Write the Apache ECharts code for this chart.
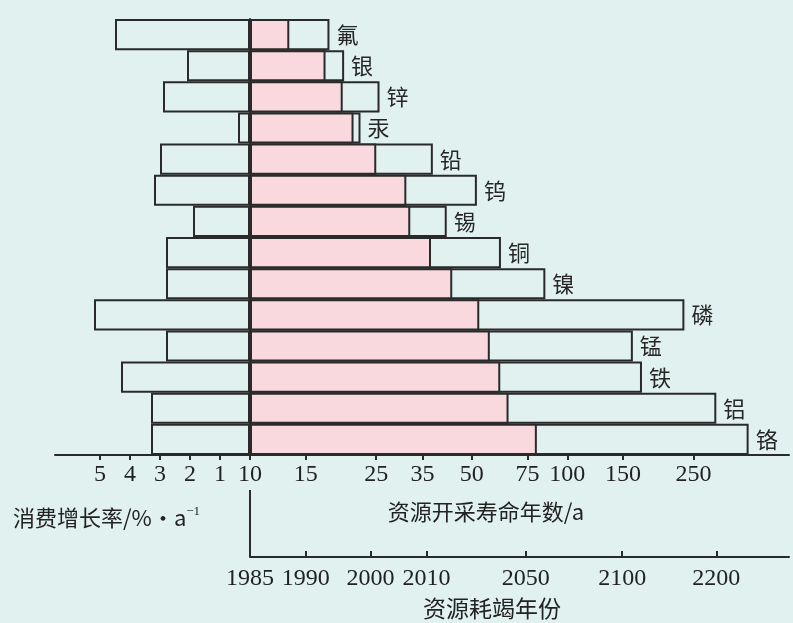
<!DOCTYPE html>
<html>
<head>
<meta charset="utf-8">
<script src="https://cdn.jsdelivr.net/npm/echarts@6/dist/echarts.min.js"></script>
<style>
html, body { margin: 0; padding: 0; background: #e0f1ef; }
#chart { width: 793px; height: 623px; }
</style>
</head>
<body>
<div id="chart"></div>
<script>
// 矿种（自上而下）
const elements = ['氟', '银', '锌', '汞', '铅', '钨', '锡', '铜', '镍', '磷', '锰', '铁', '铝', '铬'];
// 消费增长率 %/a
const growthRate = [4.5, 2.1, 2.9, 0.4, 3.0, 3.2, 1.9, 2.8, 2.8, 5.2, 2.8, 4.3, 3.3, 3.3];
// 资源开采寿命年数（粉色段）
const lifeShort = [13.3, 17.3, 19.6, 21.2, 25.0, 31.1, 32.0, 37.2, 43.4, 52.8, 57.0, 61.5, 65.3, 80.2];
// 资源开采寿命年数（白框段）
const lifeLong = [17.8, 19.8, 25.6, 22.3, 37.7, 51.9, 41.7, 61.8, 85.3, 234, 161, 172, 295, 373];
// 刻度
const rateTicks = [1, 2, 3, 4, 5];
const lifeTicks = [10, 15, 25, 35, 50, 75, 100, 150, 250];
const yearTicks = [1985, 1990, 2000, 2010, 2050, 2100, 2200];
const yearTickAt = [10, 15, 24, 36, 74, 149, 295];

const ink = '#2a2a2a';
const bg = '#e0f1ef';
const pink = '#f9d9de';
const numFont = 'Liberation Serif';
const cjkFont = 'Noto Sans CJK SC';

const chart = echarts.init(document.getElementById('chart'));

const axisLine = { show: true, lineStyle: { color: ink, width: 2 } };

const option = {
  backgroundColor: bg,
  animation: false,
  grid: [
    { left: 55, width: 195, top: 19, height: 436 },
    { left: 250, width: 539, top: 19, height: 436 }
  ],
  xAxis: [
    {
      gridIndex: 0, type: 'value', inverse: true, min: 0, max: 6.5,
      splitLine: { show: false },
      axisLine: axisLine,
      axisTick: { show: true, customValues: rateTicks, length: 5, lineStyle: { color: ink, width: 2 } },
      axisLabel: { customValues: rateTicks, margin: 8, fontFamily: numFont, fontSize: 24, color: '#222' }
    },
    {
      gridIndex: 1, type: 'log', logBase: 10, min: 10, max: 500, startValue: 10,
      splitLine: { show: false },
      axisLine: axisLine,
      axisTick: { show: true, customValues: lifeTicks, length: 5, lineStyle: { color: ink, width: 2 } },
      axisLabel: {
        customValues: lifeTicks, margin: 8, fontFamily: numFont, fontSize: 24, color: '#222',
        formatter: v => String(Math.round(v))
      }
    },
    {
      gridIndex: 1, type: 'log', logBase: 10, min: 10, max: 500, position: 'bottom', offset: 102,
      splitLine: { show: false },
      axisLine: axisLine,
      axisTick: { show: true, inside: true, customValues: yearTickAt, length: 6, lineStyle: { color: ink, width: 2 } },
      axisLabel: {
        customValues: yearTickAt, margin: 10, fontFamily: numFont, fontSize: 24, color: '#222',
        formatter: v => {
          const i = yearTickAt.findIndex(t => Math.abs(t - v) < 0.5);
          return i >= 0 ? String(yearTicks[i]) : '';
        }
      }
    }
  ],
  yAxis: [
    { gridIndex: 0, type: 'category', data: elements, inverse: true, show: false },
    {
      gridIndex: 1, type: 'category', data: elements, inverse: true,
      axisLine: axisLine, axisTick: { show: false }, axisLabel: { show: false }
    }
  ],
  series: [
    {
      type: 'bar', xAxisIndex: 0, yAxisIndex: 0, data: growthRate, barWidth: '100%',
      itemStyle: { color: bg, borderColor: ink, borderWidth: 2 }
    },
    {
      type: 'bar', xAxisIndex: 1, yAxisIndex: 1, data: lifeLong, barWidth: '100%', barGap: '-100%',
      itemStyle: { color: bg, borderColor: ink, borderWidth: 2 },
      label: {
        show: true, position: 'right', distance: 7, formatter: p => p.name,
        fontFamily: cjkFont, fontSize: 22, color: '#262626'
      }
    },
    {
      type: 'bar', xAxisIndex: 1, yAxisIndex: 1, data: lifeShort, barWidth: '100%', barGap: '-100%',
      itemStyle: { color: pink, borderColor: ink, borderWidth: 2 }
    }
  ],
  graphic: [
    { type: 'line', shape: { x1: 250, y1: 490, x2: 250, y2: 557 }, style: { stroke: ink, lineWidth: 2 } },
    {
      type: 'text', x: 13, y: 518,
      style: {
        text: '消费增长率/%·a{sup|−1}', fill: '#222', font: '22px "Noto Sans CJK SC"',
        textVerticalAlign: 'middle',
        rich: { sup: { fontSize: 13, fontFamily: numFont, padding: [0, 0, 12, 0] } }
      }
    },
    {
      type: 'text', x: 486, y: 512,
      style: { text: '资源开采寿命年数/a', fill: '#222', font: '22px "Noto Sans CJK SC"', textAlign: 'center', textVerticalAlign: 'middle' }
    },
    {
      type: 'text', x: 492, y: 608,
      style: { text: '资源耗竭年份', fill: '#222', font: '23px "Noto Sans CJK SC"', textAlign: 'center', textVerticalAlign: 'middle' }
    }
  ]
};

chart.setOption(option);
</script>
</body>
</html>
